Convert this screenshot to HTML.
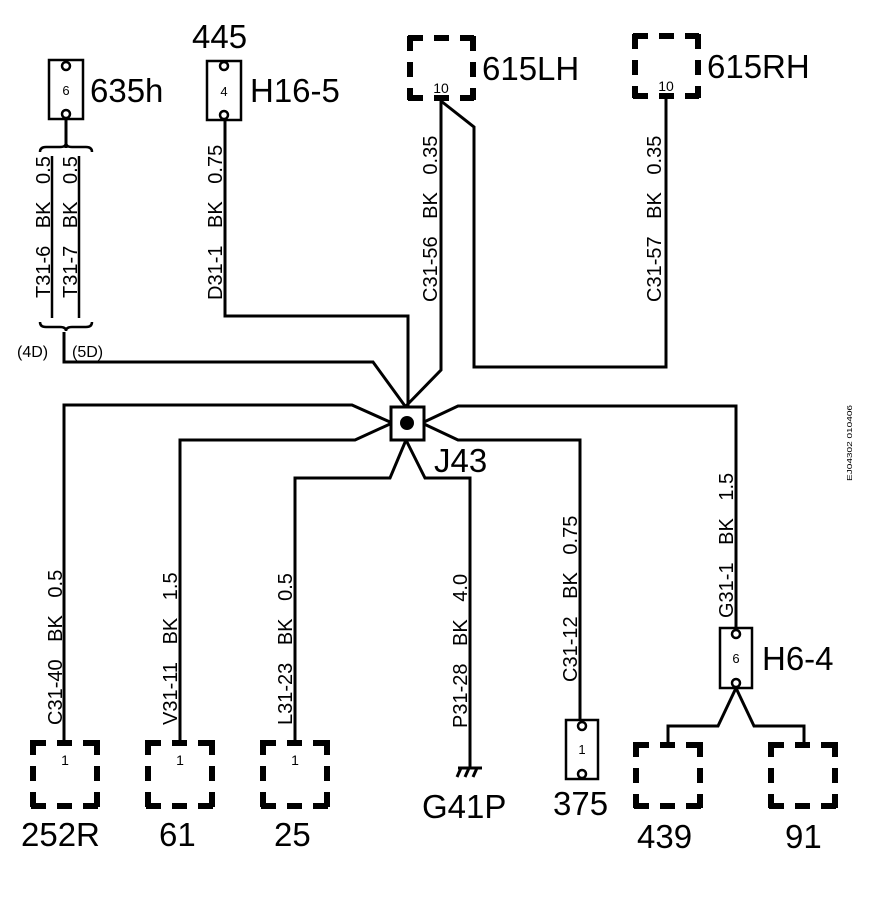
<!DOCTYPE html>
<html><head><meta charset="utf-8"><style>
html,body{margin:0;padding:0;background:#fff;}
svg{display:block}
text{font-family:"Liberation Sans",Arial,sans-serif;fill:#000}
.big{font-size:33px}
.w{font-size:20px;word-spacing:12px}
</style></head><body>
<svg width="896" height="906" viewBox="0 0 896 906" xmlns="http://www.w3.org/2000/svg">
<g fill="none" stroke="#000" stroke-width="3">
<polyline points="64,332 64,362 373,362 405,406"/>
<polyline points="225,120 225,316 408,316 408,407"/>
<polyline points="441,100 441,370 406,406"/>
<polyline points="441,101 474,127 474,367 666,367 666,98"/>
<polyline points="64,742 64,405 352,405 390,422"/>
<polyline points="180,742 180,440 355,440 390,424"/>
<polyline points="736,628 736,406 458,406 424,422" />
<polyline points="580,720 580,440 458,440 424,424"/>
<polyline points="295,742 295,478 390,478 406,440"/>
<polyline points="470,768 470,478 425,478 406,440"/>
<line x1="66" y1="118" x2="66" y2="148"/>
<line x1="52" y1="156" x2="52" y2="318" stroke-width="2.5"/>
<line x1="79" y1="156" x2="79" y2="318" stroke-width="2.5"/>
<polyline points="736,688 718,726 668,726 668,744"/>
<polyline points="736,688 754,726 804,726 804,744"/>
</g>
<g fill="none" stroke="#000" stroke-width="2.5">
<path d="M40,152 q0,-5 6,-5 h14 q6,0 6,-4 q0,4 6,4 h14 q6,0 6,5"/>
<path d="M40,322 q0,5 6,5 h14 q6,0 6,4 q0,-4 6,-4 h14 q6,0 6,-5"/>
</g>
<rect x="391" y="407" width="33" height="33" fill="none" stroke="#000" stroke-width="3"/>
<circle cx="407" cy="423" r="7" fill="#000"/>
<text class="big" x="434" y="472">J43</text>
<g fill="#fff" stroke="#000" stroke-width="2.5">
<rect x="49" y="60" width="34" height="59"/>
<rect x="207" y="61" width="34" height="59"/>
<rect x="720" y="628" width="32" height="60"/>
<rect x="566" y="720" width="32" height="59"/>
<circle cx="66" cy="66" r="4"/><circle cx="66" cy="114" r="4"/>
<circle cx="224" cy="66" r="4"/><circle cx="224" cy="115" r="4"/>
<circle cx="736" cy="634" r="4"/><circle cx="736" cy="683" r="4"/>
<circle cx="582" cy="726" r="4"/><circle cx="582" cy="774" r="4"/>
</g>
<g font-size="13" text-anchor="middle">
<text x="66" y="95">6</text><text x="224" y="96">4</text>
<text x="736" y="663">6</text><text x="582" y="754">1</text>
</g>
<g fill="none" stroke="#000" stroke-width="6" stroke-dasharray="15 11 15 11 15">
<path d="M408,38 h66 M408,98 h66 M410,36 v64 M473,36 v64"/>
<path d="M633,36 h66 M633,96 h66 M635,34 v64 M698,34 v64"/>
<path d="M31,743 h68 M31,806 h68 M33,740 v68 M97,740 v68"/>
<path d="M146,743 h68 M146,806 h68 M148,740 v68 M212,740 v68"/>
<path d="M261,743 h68 M261,806 h68 M263,740 v68 M327,740 v68"/>
<path d="M634,745 h68 M634,806 h68 M636,742 v66 M700,742 v66"/>
<path d="M769,745 h68 M769,806 h68 M771,742 v66 M835,742 v66"/>
</g>
<g font-size="14" text-anchor="middle">
<text x="441" y="93">10</text><text x="666" y="91">10</text>
<text x="65" y="765">1</text><text x="180" y="765">1</text><text x="295" y="765">1</text>
</g>
<g stroke="#000" stroke-width="3" fill="none">
<line x1="458" y1="768" x2="482" y2="768"/>
<line x1="461" y1="768" x2="457" y2="777"/>
<line x1="469" y1="768" x2="465" y2="777"/>
<line x1="477" y1="768" x2="473" y2="777"/>
</g>
<text class="big" x="90" y="102">635h</text>
<text class="big" x="192" y="48" font-size="30">445</text>
<text class="big" x="250" y="102">H16-5</text>
<text class="big" x="482" y="80">615LH</text>
<text class="big" x="707" y="78">615RH</text>
<text class="big" x="762" y="670">H6-4</text>
<text class="big" x="21" y="846">252R</text>
<text class="big" x="159" y="846">61</text>
<text class="big" x="274" y="846">25</text>
<text class="big" x="422" y="818">G41P</text>
<text class="big" x="553" y="815">375</text>
<text class="big" x="637" y="848">439</text>
<text class="big" x="785" y="848">91</text>
<text x="17" y="357" font-size="16">(4D)</text>
<text x="72" y="357" font-size="16">(5D)</text>
<g class="w">
<text transform="translate(50,298) rotate(-90)">T31-6 BK 0.5</text>
<text transform="translate(77,298) rotate(-90)">T31-7 BK 0.5</text>
<text transform="translate(222,300) rotate(-90)">D31-1 BK 0.75</text>
<text transform="translate(437,302) rotate(-90)">C31-56 BK 0.35</text>
<text transform="translate(661,302) rotate(-90)">C31-57 BK 0.35</text>
<text transform="translate(62,725) rotate(-90)">C31-40 BK 0.5</text>
<text transform="translate(177,725) rotate(-90)">V31-11 BK 1.5</text>
<text transform="translate(292,725) rotate(-90)">L31-23 BK 0.5</text>
<text transform="translate(467,728) rotate(-90)">P31-28 BK 4.0</text>
<text transform="translate(577,682) rotate(-90)">C31-12 BK 0.75</text>
<text transform="translate(733,618) rotate(-90)">G31-1 BK 1.5</text>
</g>
<text transform="translate(852,443) rotate(-90)" font-size="7" text-anchor="middle" textLength="76" lengthAdjust="spacingAndGlyphs">EJ04302 010406</text>
</svg>
</body></html>
